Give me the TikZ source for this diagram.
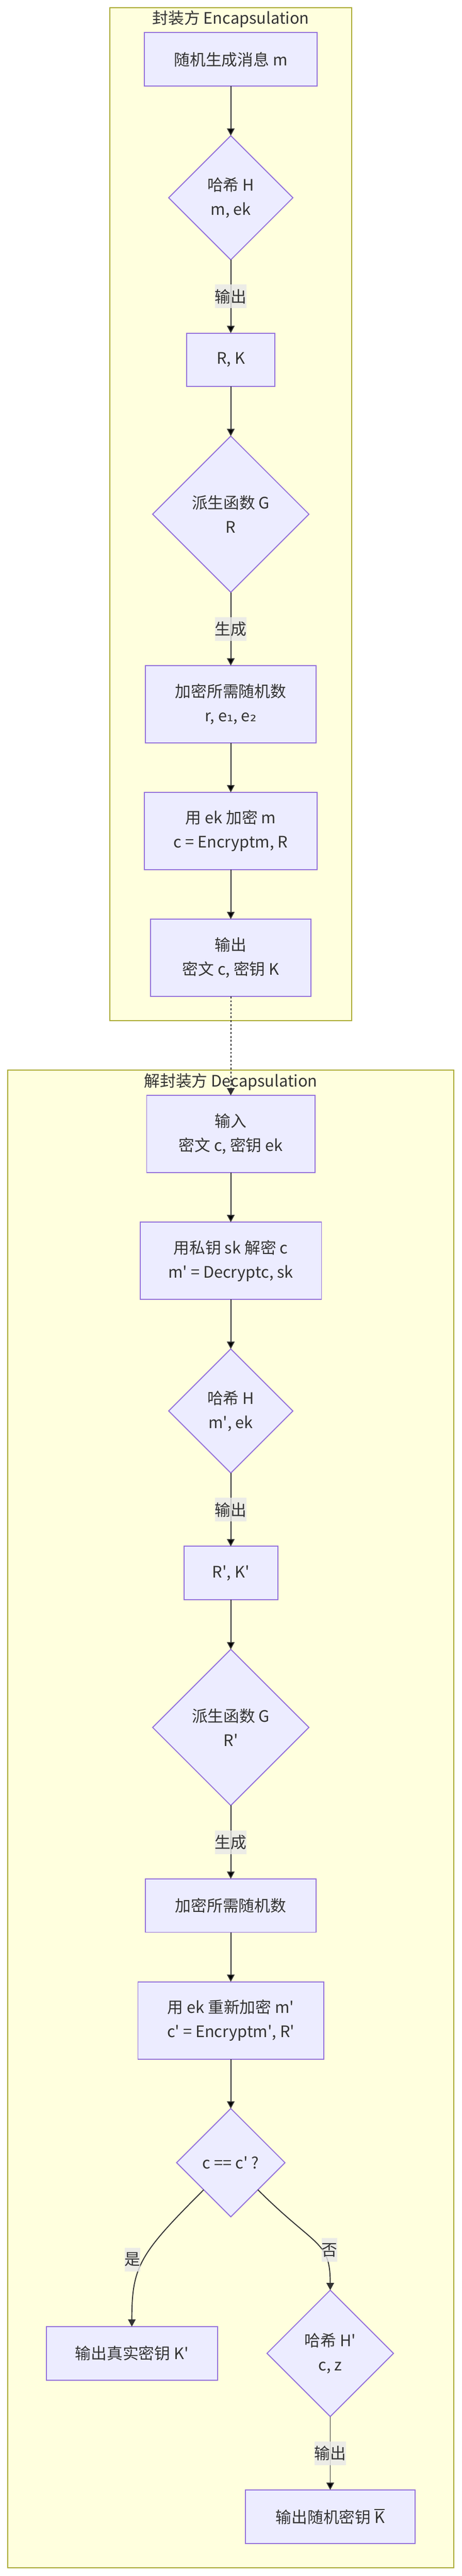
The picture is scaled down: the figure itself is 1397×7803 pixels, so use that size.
\documentclass[tikz,border=0pt]{standalone}
\usepackage{fontspec}
\setmainfont{Noto Sans CJK SC}
\newfontfamily\subfont{DejaVu Sans}
\usepackage{tikz}
\usetikzlibrary{shapes, arrows.meta, positioning}
\definecolor{boxfill}{HTML}{ECECFF}
\definecolor{boxline}{HTML}{9370DB}
\definecolor{clfill}{HTML}{FFFFDE}
\definecolor{clline}{HTML}{AAAA33}
\definecolor{ink}{HTML}{333333}
\definecolor{lblfill}{HTML}{E8E8E8}
\newcommand{\apos}{\textquotesingle}
\newcommand{\kbar}{\leavevmode\sbox0{K}\rlap{\rule[\dimexpr\ht0+0.1em\relax]{\wd0}{1.4pt}}K}
\tikzstyle{box}  = [draw=boxline, fill=boxfill, line width=1.5pt, outer sep=0pt, minimum height=81pt, align=center, text=ink]
\tikzstyle{two}  = [minimum height=117pt]
\tikzstyle{o}    = [diamond, draw=boxline, fill=boxfill, line width=1.5pt, outer sep=0pt, aspect=1, inner sep=0pt, align=center, text=ink]
\tikzstyle{->}   = [draw=ink, line width=1.5pt, -{Triangle[length=11pt, width=11.5pt]}]
\tikzstyle{lbl}  = [fill=lblfill, fill opacity=0.8, text opacity=1, inner xsep=0pt, outer sep=0pt, minimum height=36pt, text=ink]
\tikzstyle{cl}   = [draw=clline, fill=clfill, line width=1.5pt]

\begin{document}
\begin{tikzpicture}[x=0.5pt, y=-0.5pt, font=\fontsize{24}{36.5}\selectfont, node distance=75pt]

\useasboundingbox (0,0) rectangle (1397,7803);

% clusters
\path [cl] (332,23) rectangle (1065,3091);
\path [cl] (24,3242) rectangle (1373,7778);
\node [text=ink] (enc) at (698.5,58)   {封装方 Encapsulation};
\node [text=ink] (dec) at (698.5,3278) {解封装方 Decapsulation};

% encapsulation
\node [box, minimum width=261.5pt] (m)  at (698.5,180) {随机生成消息 m};
\node [o, minimum size=188pt, below=of m]           (h)   {哈希 H\\m, ek};
\node [box, minimum width=134pt, below=111pt of h]  (rk)  {R, K};
\node [o, minimum size=236.5pt, below=of rk]        (g)   {派生函数 G\\R};
\node [box, two, minimum width=258.5pt, below=111pt of g] (coin) {加密所需随机数\\r, e{\subfont ₁}, e{\subfont ₂}};
\node [box, two, minimum width=261.5pt, below=of coin]    (ct)   {用 ek 加密 m\\c = Encryptm, R};
\node [box, two, minimum width=242.5pt, below=of ct]      (out)  {输出\\密文 c, 密钥 K};

% decapsulation
\node [box, two, minimum width=254.5pt, below=150pt of out] (in)  {输入\\密文 c, 密钥 ek};
\node [box, two, minimum width=274.5pt, below=of in]        (dm)  {用私钥 sk 解密 c\\m\apos{} = Decryptc, sk};
\node [o, minimum size=188pt, below=of dm]                  (h2)  {哈希 H\\m\apos, ek};
\node [box, minimum width=142pt, below=111pt of h2]         (rk2) {R\apos, K\apos};
\node [o, minimum size=236.5pt, below=of rk2]               (g2)  {派生函数 G\\R\apos};
\node [box, minimum width=258.5pt, below=111pt of g2]       (coin2) {加密所需随机数};
\node [box, two, minimum width=281pt, below=of coin2]       (ct2) {用 ek 重新加密 m\apos\\c\apos{} = Encryptm\apos, R\apos};
\node [o, minimum size=164pt, below=of ct2]                 (eq)  {c == c\apos{} ?};
\node [o, minimum size=191.5pt, below=111pt of eq, xshift=150.5pt] (hz) {哈希 H\apos\\c, z};
\node [box, minimum width=259pt, left=75pt of hz]            (kk)  {输出真实密钥 K\apos};
\node [box, minimum width=257pt, below=111pt of hz]          (kr)  {输出随机密钥 \kbar};

% edges
\path [->] (m) edge (h)
           (h) edge node [lbl] {输出} (rk)
           (rk) edge (g)
           (g) edge node [lbl] {生成} (coin)
           (coin) edge (ct)
           (ct) edge (out);

\draw [->, dash pattern=on 3pt off 3pt] (out) -- (in);

\path [->] (in) edge (dm)
           (dm) edge (h2)
           (h2) edge node [lbl] {输出} (rk2)
           (rk2) edge (g2)
           (g2) edge node [lbl] {生成} (coin2)
           (coin2) edge (ct2)
           (ct2) edge (eq)
           (hz) edge node [lbl] {输出} (kr);

% yes / no branches
\draw [->] (eq.south west) to [out=-135, in=90, out looseness=1.5, in looseness=1.0]
           node [lbl, pos=0.5, xshift=-17pt] {是} (kk.north);
\draw [->] (eq.south east) to [out=-45, in=90, out looseness=1.7, in looseness=1.03]
           node [lbl, pos=0.6, xshift=12pt] {否} (hz.north);

\end{tikzpicture}
\end{document}
